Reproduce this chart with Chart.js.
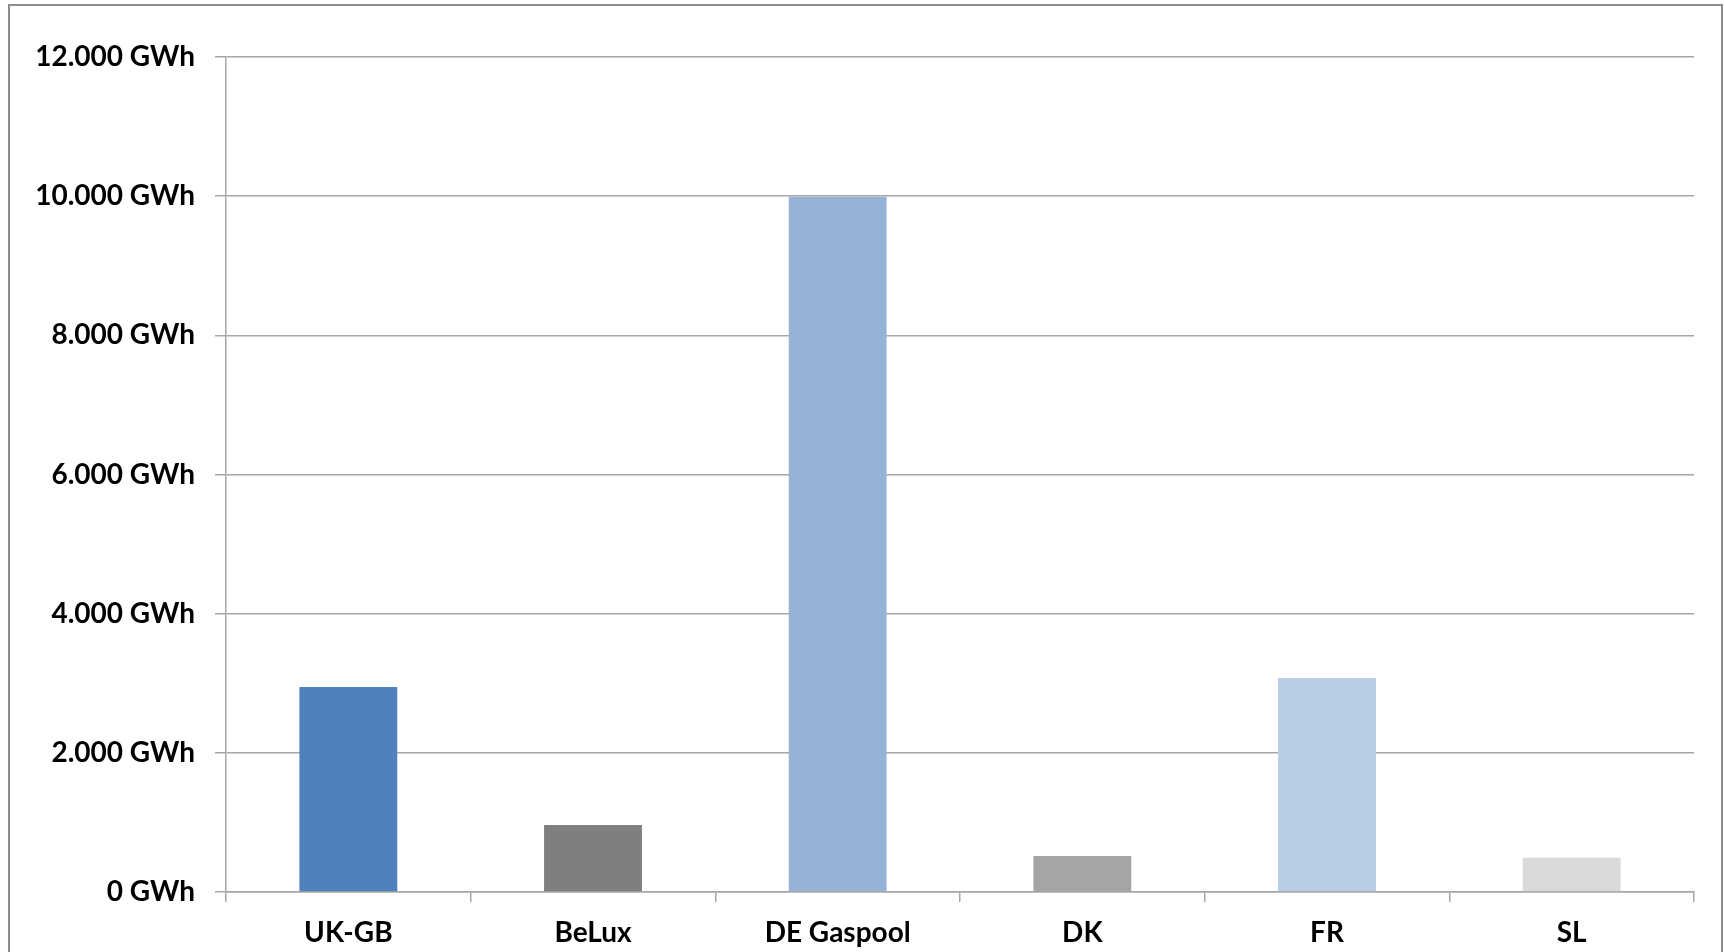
<!DOCTYPE html>
<html>
<head>
<meta charset="utf-8">
<script src="https://cdn.jsdelivr.net/npm/chart.js@4/dist/chart.umd.min.js"></script>
<style>
  html, body { margin: 0; padding: 0; background: #fff; overflow: hidden; }
  #frame { position: absolute; left: 8px; top: 4px; width: 1715px; height: 1000px; border: 2px solid #8c8c8c; box-sizing: border-box; }
  #chart { position: absolute; left: 0; top: 0; }
</style>
</head>
<body>
<div id="frame"></div>
<canvas id="chart" width="1725" height="952"></canvas>
<script>
// Daten
const categories = ['UK-GB', 'BeLux', 'DE Gaspool', 'DK', 'FR', 'SL'];
const values = [2946, 963, 9990, 517, 3076, 493];
const barColors = ['#4F81BD', '#7F7F7F', '#95B3D7', '#A5A5A5', '#B9CDE5', '#D9D9D9'];
const yTicks = [0, 2000, 4000, 6000, 8000, 10000, 12000];

const fmt = v => v.toLocaleString('de-DE') + ' GWh';
const font = { family: 'Lato', size: 28, weight: 'bold' };

const ctx = document.getElementById('chart').getContext('2d');
new Chart(ctx, {
  type: 'bar',
  data: {
    labels: categories,
    datasets: [{
      data: values,
      backgroundColor: barColors,
      borderWidth: 0,
      barPercentage: 0.4,
      categoryPercentage: 1
    }]
  },
  options: {
    responsive: false,
    animation: false,
    layout: { padding: { top: 57, right: 31, bottom: 0, left: 0 } },
    plugins: { legend: { display: false }, tooltip: { enabled: false } },
    scales: {
      y: {
        min: 0,
        max: 12000,
        afterBuildTicks: axis => { axis.ticks = yTicks.map(v => ({ value: v })); },
        afterFit: axis => { axis.width = 226; },
        ticks: { color: '#000', font: font, padding: 20, callback: v => fmt(v) },
        grid: { color: '#a6a6a6', lineWidth: 1.5, tickLength: 11 },
        border: { color: '#a6a6a6', width: 1.5 }
      },
      x: {
        afterFit: axis => { axis.height = 60; },
        ticks: { color: '#000', font: font, padding: 14 },
        grid: { display: true, drawOnChartArea: false, offset: true, color: '#a6a6a6', lineWidth: 1.5, tickLength: 10 },
        border: { color: '#a6a6a6', width: 1.5 }
      }
    }
  }
});
</script>
</body>
</html>
